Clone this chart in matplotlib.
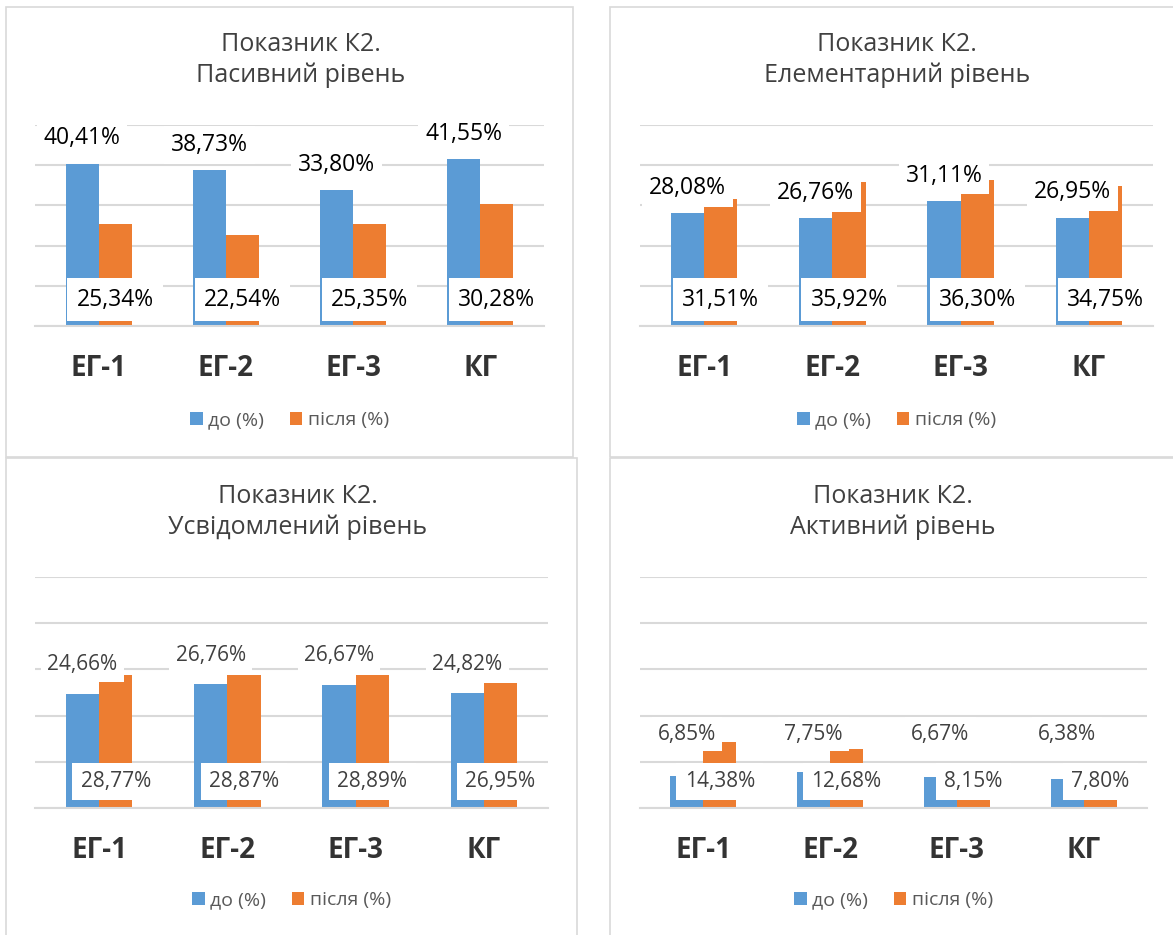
import matplotlib
matplotlib.use("Agg")
import matplotlib.pyplot as plt
from matplotlib.patches import Rectangle

plt.rcParams['font.family'] = ['Open Sans', 'DejaVu Sans']

groups = ['ЕГ-1', 'ЕГ-2', 'ЕГ-3', 'КГ']
series_names = ['до (%)', 'після (%)']

titles = [
    'Показник К2.\nПасивний рівень',
    'Показник К2.\nЕлементарний рівень',
    'Показник К2.\nУсвідомлений рівень',
    'Показник К2.\nАктивний рівень',
]

# до (%)
before_passive = [40.41, 38.73, 33.80, 41.55]
before_elementary = [28.08, 26.76, 31.11, 26.95]
before_conscious = [24.66, 26.76, 26.67, 24.82]
before_active = [6.85, 7.75, 6.67, 6.38]

# після (%)
after_passive = [25.34, 22.54, 25.35, 30.28]
after_elementary = [31.51, 35.92, 36.30, 34.75]
after_conscious = [28.77, 28.87, 28.89, 26.95]
after_active = [14.38, 12.68, 8.15, 7.80]

BLUE = '#5b9bd5'
ORANGE = '#ed7d31'
GRID = '#d9d9d9'

W, H = 1173, 935
fig = plt.figure(figsize=(W / 100, H / 100), dpi=100)


def px_rect(x0, y0, x1, y1):
    # pixel box (top-left origin) -> figure fraction
    return [x0 / W, 1 - y1 / H, (x1 - x0) / W, (y1 - y0) / H]


# panel frames
for (x0, y0, x1, y1) in [(6, 7, 573, 457), (610, 7, 1190, 457),
                         (6, 458, 577, 950), (610, 458, 1190, 950)]:
    fig.patches.append(Rectangle((x0 / W, 1 - y1 / H), (x1 - x0) / W, (y1 - y0) / H,
                                 transform=fig.transFigure, fill=False,
                                 edgecolor=GRID, linewidth=1.2))

panels = [
    (before_passive, after_passive, titles[0], (35, 125, 544, 326), 301, 'black', 16.5, -0.47),
    (before_elementary, after_elementary, titles[1], (640, 125, 1153, 326), 897, 'black', 16.5, -0.47),
    (before_conscious, after_conscious, titles[2], (35, 577, 548, 808), 298, '#404040', 15, -0.40),
    (before_active, after_active, titles[3], (640, 577, 1147, 808), 893, '#404040', 15, -0.40),
]

x = list(range(len(groups)))
bw = 0.26

for before, after, title, box, tx, lc, fs, leg_y in panels:
    ax = fig.add_axes(px_rect(*box))
    ax.bar([i - bw / 2 for i in x], before, bw, color=BLUE, label=series_names[0], zorder=2)
    ax.bar([i + bw / 2 for i in x], after, bw, color=ORANGE, label=series_names[1], zorder=2)
    ax.set_xlim(-0.5, 3.5)
    ax.set_ylim(0, 50)
    ax.set_yticks([0, 10, 20, 30, 40, 50])
    ax.yaxis.grid(True, color=GRID, linewidth=1.5, zorder=0)
    ax.set_axisbelow(True)
    ax.tick_params(axis='y', left=False, labelleft=False)
    ax.tick_params(axis='x', length=0, pad=20)
    ax.set_xticks(x)
    ax.set_xticklabels(groups, fontsize=20, fontweight='bold', color='#333333')
    for s in ['top', 'right', 'left']:
        ax.spines[s].set_visible(False)
    ax.spines['bottom'].set_color(GRID)
    ax.spines['bottom'].set_linewidth(1.5)

    for i in x:
        ytxt = max(before[i] + 6.3, 16)
        ax.text(i - bw / 2, ytxt, f'{before[i]:.2f}%'.replace('.', ','),
                ha='center', va='center', fontsize=fs, color=lc, zorder=5,
                bbox=dict(boxstyle='square,pad=0.3', fc='white', ec='none'))
        ax.annotate(f'{after[i]:.2f}%'.replace('.', ','), (i + bw / 2, 0),
                    xytext=(0, 19), textcoords='offset points',
                    ha='center', va='center', fontsize=fs, color=lc, zorder=5,
                    bbox=dict(boxstyle='square,pad=0.4', fc='white', ec='none'))

    ax.legend(loc='center', bbox_to_anchor=(0.5, leg_y), ncol=2, frameon=False,
              handlelength=0.65, handleheight=0.65, handletextpad=0.3,
              columnspacing=1.3, fontsize=14, labelcolor='#595959')

    fig.text(tx / W, 1 - 60 / H if box[1] < 300 else 1 - 512 / H, title,
             ha='center', va='center', fontsize=18, color='#404040', linespacing=1.3)

fig.savefig('out.png', dpi=100)
